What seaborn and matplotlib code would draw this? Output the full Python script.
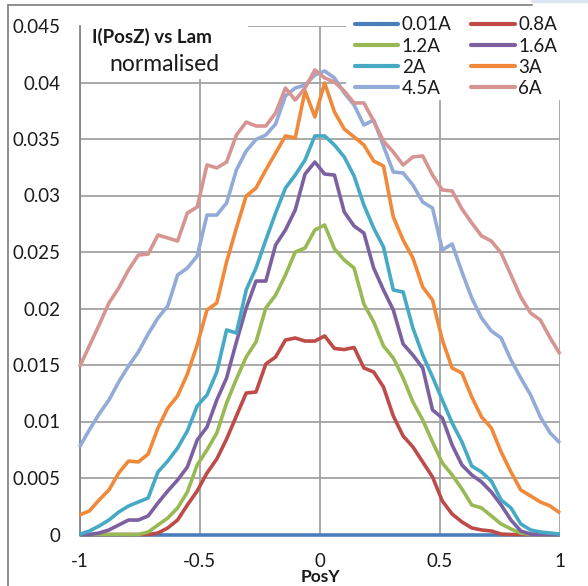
import numpy as np
import pandas as pd
import matplotlib
matplotlib.use("Agg")
import matplotlib.pyplot as plt
import seaborn as sns
from matplotlib.patches import Rectangle
from matplotlib.lines import Line2D

# ---------------- data ----------------
series_names = ["0.01A", "0.8A", "1.2A", "1.6A", "2A", "3A", "4.5A", "6A"]
series_colors = ["#4A7EBB", "#BE4B48", "#98B954", "#7D60A0", "#46AAC5",
                 "#F08A3A", "#92ABD8", "#D69593"]

pos_y = np.linspace(-1, 1, 50)

i_001 = [0.0, 0.0, 0.0, 0.0, 0.0, 0.0, 0.0, 0.0, 0.0, 0.0,
         0.0, 0.0, 0.0, 0.0, 0.0, 0.0, 0.0, 0.0, 0.0, 0.0,
         0.0, 0.0, 0.0, 0.0, 0.0, 0.0, 0.0, 0.0, 0.0, 0.0,
         0.0, 0.0, 0.0, 0.0, 0.0, 0.0, 0.0, 0.0, 0.0, 0.0,
         0.0, 0.0, 0.0, 0.0, 0.0, 0.0, 0.0, 0.0, 0.0, 0.0]
i_08 = [0.0, 0.0, 0.0, 0.0, 0.0, 0.0, 0.0, 0.0, 0.00013, 0.00058,
        0.00128, 0.00261, 0.00385, 0.00544, 0.00668, 0.00845, 0.01049, 0.01252, 0.01261, 0.01509,
        0.01571, 0.01721, 0.01739, 0.01712, 0.01712, 0.01757, 0.01646, 0.01637, 0.01655, 0.01474,
        0.01438, 0.01305, 0.01049, 0.00872, 0.00775, 0.00642, 0.00509, 0.00296, 0.00181, 0.00111,
        0.00058, 0.00040, 0.00031, 0.00004, 0.0, 0.0, 0.0, 0.0, 0.0, 0.0]
i_12 = [0.0, 0.0, 0.0, 0.0, 0.0, 0.0, 0.0, 0.00022, 0.00084, 0.00146,
        0.00235, 0.00376, 0.00615, 0.00748, 0.00898, 0.01164, 0.01376, 0.01571, 0.01704, 0.02004,
        0.02119, 0.02296, 0.02500, 0.02535, 0.02695, 0.02739, 0.02527, 0.02429, 0.02358, 0.02040,
        0.01881, 0.01668, 0.01562, 0.01385, 0.01173, 0.01013, 0.00819, 0.00633, 0.00527, 0.00403,
        0.00261, 0.00235, 0.00164, 0.00093, 0.00049, 0.00013, 0.0, 0.0, 0.0, 0.0]
i_16 = [0.0, 0.0, 0.00013, 0.00040, 0.00084, 0.00128, 0.00128, 0.00164, 0.00279, 0.00385,
        0.00482, 0.00597, 0.00836, 0.00951, 0.01190, 0.01385, 0.01704, 0.02004, 0.02243, 0.02243,
        0.02562, 0.02695, 0.02872, 0.03190, 0.03296, 0.03190, 0.03181, 0.02854, 0.02730, 0.02668,
        0.02358, 0.02164, 0.01987, 0.01686, 0.01588, 0.01473, 0.01102, 0.01031, 0.00792, 0.00615,
        0.00527, 0.00465, 0.00376, 0.00261, 0.00128, 0.00031, 0.00004, 0.0, 0.0, 0.0]
i_2 = [0.0, 0.00031, 0.00075, 0.00128, 0.00199, 0.00252, 0.00288, 0.00323, 0.00553, 0.00650,
       0.00765, 0.00916, 0.01137, 0.01235, 0.01438, 0.01810, 0.01783, 0.02164, 0.02358, 0.02606,
       0.02845, 0.03066, 0.03181, 0.03314, 0.03527, 0.03527, 0.03447, 0.03341, 0.03173, 0.02916,
       0.02712, 0.02544, 0.02164, 0.02146, 0.01827, 0.01588, 0.01394, 0.01190, 0.00987, 0.00819,
       0.00606, 0.00553, 0.00473, 0.00305, 0.00235, 0.00093, 0.00040, 0.00022, 0.00013, 0.00004]
i_3 = [0.00173, 0.00208, 0.00305, 0.00394, 0.00544, 0.00650, 0.00642, 0.00712, 0.00942, 0.01119,
       0.01226, 0.01420, 0.01677, 0.01987, 0.02049, 0.02412, 0.02712, 0.02996, 0.03066, 0.03226,
       0.03376, 0.03527, 0.03509, 0.03925, 0.03695, 0.03996, 0.03739, 0.03588, 0.03518, 0.03447,
       0.03305, 0.03261, 0.02810, 0.02606, 0.02447, 0.02190, 0.02075, 0.01721, 0.01473, 0.01429,
       0.01217, 0.01040, 0.00942, 0.00730, 0.00553, 0.00394, 0.00341, 0.00288, 0.00252, 0.00190]
i_45 = [0.00774, 0.00925, 0.01066, 0.01190, 0.01350, 0.01491, 0.01615, 0.01774, 0.01916, 0.02022,
        0.02296, 0.02358, 0.02465, 0.02827, 0.02827, 0.02934, 0.03226, 0.03394, 0.03496, 0.03535,
        0.03633, 0.03881, 0.03951, 0.03978, 0.04066, 0.04102, 0.04040, 0.03907, 0.03801, 0.03624,
        0.03668, 0.03438, 0.03208, 0.03199, 0.03093, 0.02942, 0.02889, 0.02518, 0.02571, 0.02323,
        0.02093, 0.01916, 0.01801, 0.01739, 0.01544, 0.01385, 0.01235, 0.01040, 0.00898, 0.00810]
i_6 = [0.01482, 0.01668, 0.01854, 0.02049, 0.02181, 0.02341, 0.02473, 0.02482, 0.02650, 0.02624,
       0.02597, 0.02845, 0.02898, 0.03270, 0.03244, 0.03296, 0.03535, 0.03650, 0.03615, 0.03615,
       0.03730, 0.03951, 0.03845, 0.03951, 0.04111, 0.04040, 0.04004, 0.03925, 0.03819, 0.03819,
       0.03659, 0.03482, 0.03385, 0.03270, 0.03341, 0.03350, 0.03181, 0.03049, 0.03040, 0.02881,
       0.02757, 0.02642, 0.02597, 0.02491, 0.02296, 0.02102, 0.01960, 0.01898, 0.01739, 0.01597]

x_ticks = [-1, -0.5, 0, 0.5, 1]
x_tick_labels = ["-1", "-0.5", "0", "0.5", "1"]
y_ticks = [0, 0.005, 0.01, 0.015, 0.02, 0.025, 0.03, 0.035, 0.04, 0.045]
y_tick_labels = ["0", "0.005", "0.01", "0.015", "0.02", "0.025", "0.03", "0.035", "0.04", "0.045"]

title_line1 = "I(PosZ) vs Lam"
title_line2 = "normalised"
x_label = "PosY"

# ---------------- build table ----------------
all_values = [i_001, i_08, i_12, i_16, i_2, i_3, i_45, i_6]
frames = []
for name, vals in zip(series_names, all_values):
    frames.append(pd.DataFrame({"PosY": pos_y, "I": vals, "series": name}))
df = pd.concat(frames, ignore_index=True)

# ---------------- figure ----------------
W, H = 588, 586
sns.set_theme(style="white")
plt.rcParams["font.family"] = ["Lato", "DejaVu Sans"]
plt.rcParams["axes.unicode_minus"] = False

fig = plt.figure(figsize=(W / 100, H / 100), dpi=100)
fig.patch.set_facecolor("white")

def fx(px):
    return px / W

def fy(py):
    return 1 - py / H

ax_left, ax_right, ax_top, ax_bot = 79.5, 560, 26, 534.5
ax = fig.add_axes([fx(ax_left), fy(ax_bot), fx(ax_right) - fx(ax_left), fy(ax_top) - fy(ax_bot)])

sns.lineplot(data=df, x="PosY", y="I", hue="series", hue_order=series_names,
             palette=series_colors, estimator=None, sort=False, linewidth=2.6,
             legend=False, ax=ax)
for ln in ax.get_lines():
    ln.set_clip_on(False)
    ln.set_solid_joinstyle("round")
    ln.set_solid_capstyle("butt")
    ln.set_zorder(3)

ax.set_xlim(-1, 1)
ax.set_ylim(0, 0.045)
ax.set_xticks(x_ticks)
ax.set_xticklabels(x_tick_labels)
ax.set_yticks(y_ticks)
ax.set_yticklabels(y_tick_labels)
ax.tick_params(axis="both", length=0, labelsize=13.5, colors="#1a1a1a")
ax.tick_params(axis="y", pad=13.5)
ax.tick_params(axis="x", pad=13.5)
ax.set_xlabel("")
ax.set_ylabel("")
ax.set_axisbelow(True)
ax.grid(True, color="#A3A3A3", linewidth=1.3)
for s in ["top", "right", "bottom"]:
    ax.spines[s].set_visible(False)
ax.spines["left"].set_color("#868686")
ax.spines["left"].set_linewidth(1.3)

# white boxes behind title and legend (cover gridlines)
ax.add_patch(Rectangle((fx(81), fy(79)), fx(248) - fx(81), fy(0) - fy(79),
                       transform=fig.transFigure, facecolor="white", edgecolor="none",
                       zorder=1, clip_on=False))
ax.add_patch(Rectangle((fx(346), fy(100)), fx(578) - fx(346), fy(6) - fy(100),
                       transform=fig.transFigure, facecolor="white", edgecolor="none",
                       zorder=1, clip_on=False))

# title
fig.text(fx(92), fy(43), title_line1, fontsize=13.5, fontweight="bold",
         color="#1a1a1a", ha="left", va="baseline")
fig.text(fx(164.5), fy(71), title_line2, fontsize=16.5,
         color="#1a1a1a", ha="center", va="baseline")

# axis title
fig.text(fx(320), fy(581.5), x_label, fontsize=12.5, fontweight="bold",
         color="#1a1a1a", ha="center", va="baseline")

# legend (row-major order like the original)
order = [0, 2, 4, 6, 1, 3, 5, 7]
handles = [Line2D([0], [0], color=series_colors[k], linewidth=3.0,
                  solid_capstyle="round") for k in order]
labels = [series_names[k] for k in order]
leg = fig.legend(handles, labels, ncol=2, loc="upper left",
                 bbox_to_anchor=(fx(355), fy(16.5)), frameon=False,
                 fontsize=13.5, handlelength=2.3, handletextpad=0.2,
                 columnspacing=1.05, labelspacing=0.22, borderpad=0.0,
                 borderaxespad=0.0)
for t in leg.get_texts():
    t.set_color("#1a1a1a")

# outer chart border (left and top visible)
fig.add_artist(Line2D([fx(7.5), fx(7.5)], [fy(5), fy(586)], color="#878787",
                      linewidth=1.3, transform=fig.transFigure))
fig.add_artist(Line2D([fx(7.5), fx(532)], [fy(5), fy(5)], color="#878787",
                      linewidth=1.3, transform=fig.transFigure))
fig.add_artist(Line2D([fx(532), fx(588)], [fy(1), fy(1)], color="#DCE6F2",
                      linewidth=2.5, transform=fig.transFigure))

fig.savefig("out.png", dpi=100, facecolor="white")
